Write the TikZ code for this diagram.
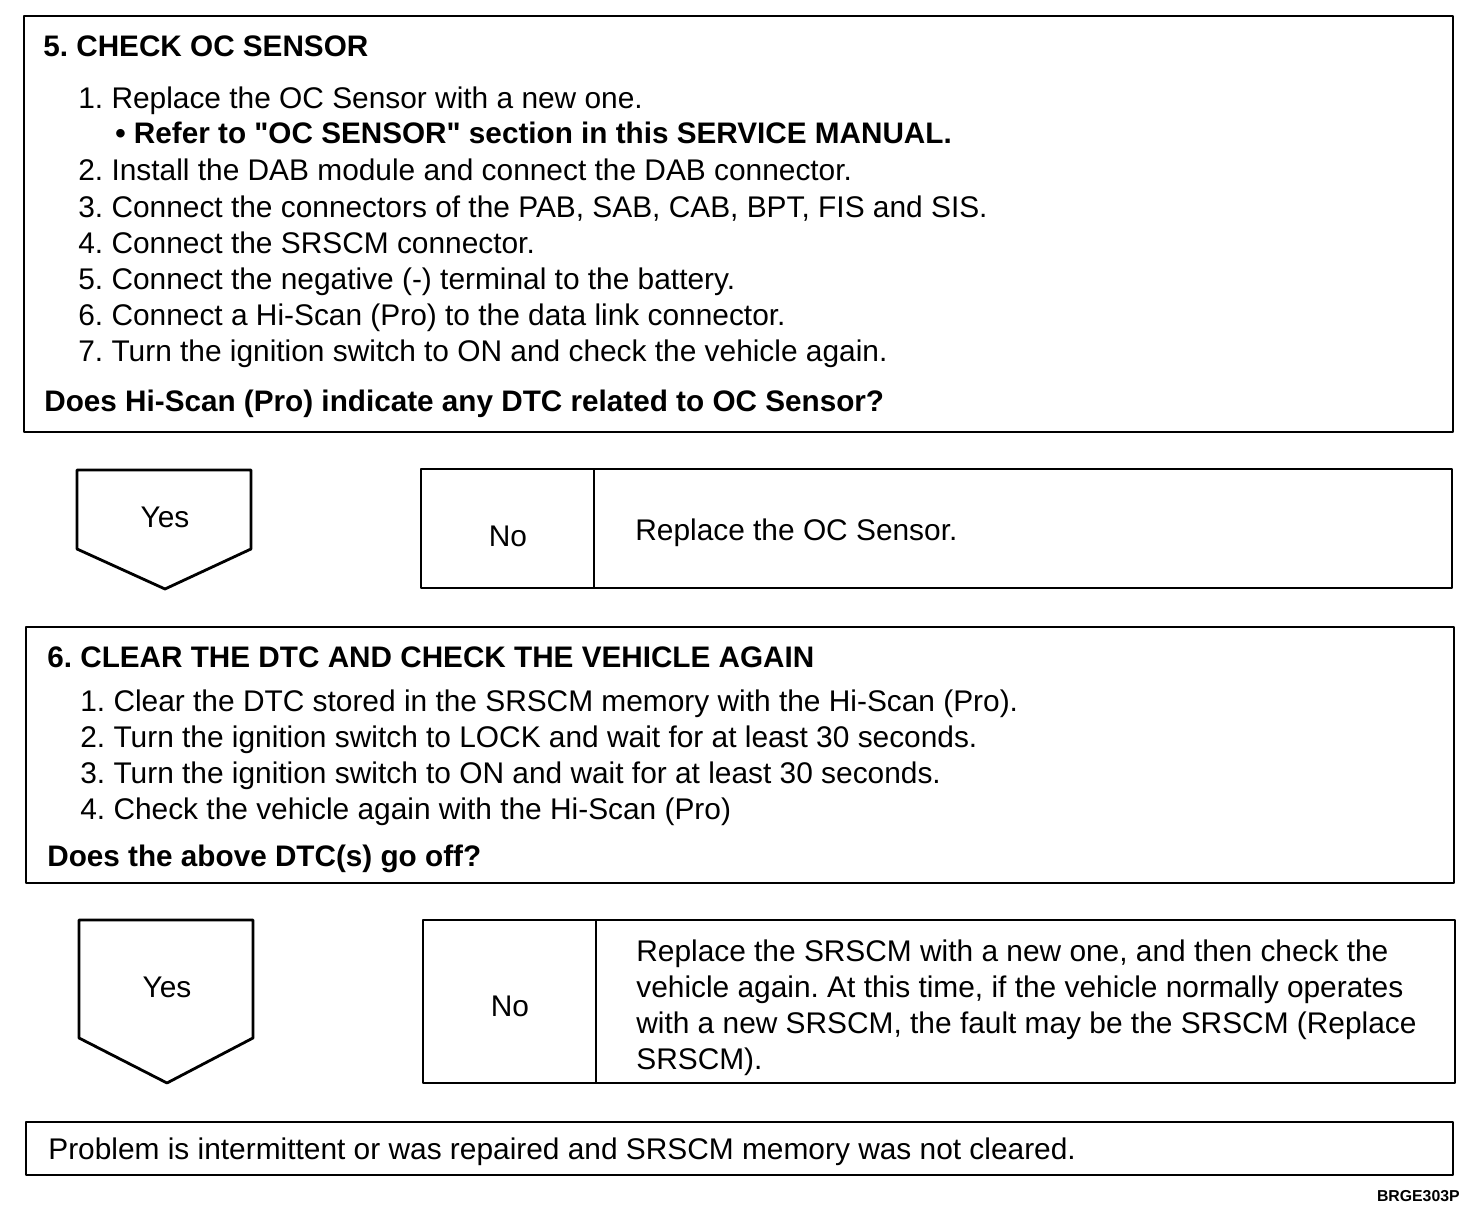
\documentclass[tikz,border=0pt]{standalone}
\usepackage{fontspec}
\setmainfont{Liberation Sans}
\frenchspacing
\usetikzlibrary{positioning}
\tikzset{
  rahmen/.style={draw=black,line width=1.6pt,line join=round},
  kopf/.style={anchor=base west,inner sep=0pt,font=\bfseries\fontsize{16.9}{20.5}\selectfont},
  zeile/.style={anchor=base west,inner sep=0pt,font=\fontsize{17}{20.5}\selectfont},
  antwort/.style={anchor=base,inner sep=0pt,font=\fontsize{17}{20.5}\selectfont},
}
\begin{document}
\begin{tikzpicture}[x=0.02cm,y=-0.02cm]
  \useasboundingbox (0,0) rectangle (1472,1212);
  % step 5
  \draw[rahmen] (24,16) rectangle (1453,432);
  \node[kopf] (t5) at (43,57) {5. CHECK OC SENSOR};
  \node[zeile] (p51) at (78,109) {1. Replace the OC Sensor with a new one.};
  \node[kopf] (ref) at (115,144) {• Refer to \textquotedbl OC SENSOR\textquotedbl{} section in this SERVICE MANUAL.};
  \foreach \t [count=\i from 2] in {{Install the DAB module and connect the DAB connector.},
      {Connect the connectors of the PAB, SAB, CAB, BPT, FIS and SIS.},
      {Connect the SRSCM connector.},
      {Connect the negative (-) terminal to the battery.},
      {Connect a Hi-Scan (Pro) to the data link connector.},
      {Turn the ignition switch to ON and check the vehicle again.}}
    \node[zeile] (p5\i) at (78,{181+36.2*(\i-2)}) {\i. \t};
  \node[kopf] (q5) at (44,412) {Does Hi-Scan (Pro) indicate any DTC related to OC Sensor?};
  % answers 5
  \draw[rahmen] (77,470) -- (251,470) -- (251,549) -- (165,589) -- (77,549) -- cycle;
  \node[antwort] (ja5) at (165,528) {Yes};
  \draw[rahmen] (421,469) rectangle (1452,588);
  \draw[rahmen] (594,469) -- (594,588);
  \node[antwort] (nein5) at (508,547) {No};
  \node[zeile] (r5) at (635,541) {Replace the OC Sensor.};
  % step 6
  \draw[rahmen] (26,627) rectangle (1454,883);
  \node[kopf] (t6) at (47,668) {6. CLEAR THE DTC AND CHECK THE VEHICLE AGAIN};
  \foreach \t [count=\i] in {{Clear the DTC stored in the SRSCM memory with the Hi-Scan (Pro).},
      {Turn the ignition switch to LOCK and wait for at least 30 seconds.},
      {Turn the ignition switch to ON and wait for at least 30 seconds.},
      {Check the vehicle again with the Hi-Scan (Pro)}}
    \node[zeile] (p6\i) at (80,{712+36*(\i-1)}) {\i. \t};
  \node[kopf] (q6) at (47,867) {Does the above DTC(s) go off?};
  % answers 6
  \draw[rahmen] (79,920) -- (253,920) -- (253,1038) -- (167,1083) -- (79,1038) -- cycle;
  \node[antwort] (ja6) at (167,998) {Yes};
  \draw[rahmen] (423,920) rectangle (1455,1083);
  \draw[rahmen] (596,920) -- (596,1083);
  \node[antwort] (nein6) at (510,1017) {No};
  \foreach \t [count=\i] in {{Replace the SRSCM with a new one, and then check the},
      {vehicle again. At this time, if the vehicle normally operates},
      {with a new SRSCM, the fault may be the SRSCM (Replace},
      {SRSCM).}}
    \node[zeile] (r6\i) at (636,{962+36*(\i-1)}) {\t};
  % result
  \draw[rahmen] (26,1122) rectangle (1453,1175);
  \node[zeile] (ende) at (48,1159) {Problem is intermittent or was repaired and SRSCM memory was not cleared.};
  \node[anchor=base east,inner sep=0pt,font=\bfseries\fontsize{9}{11}\selectfont] (code) at (1460,1201) {BRGE303P};
\end{tikzpicture}
\end{document}
